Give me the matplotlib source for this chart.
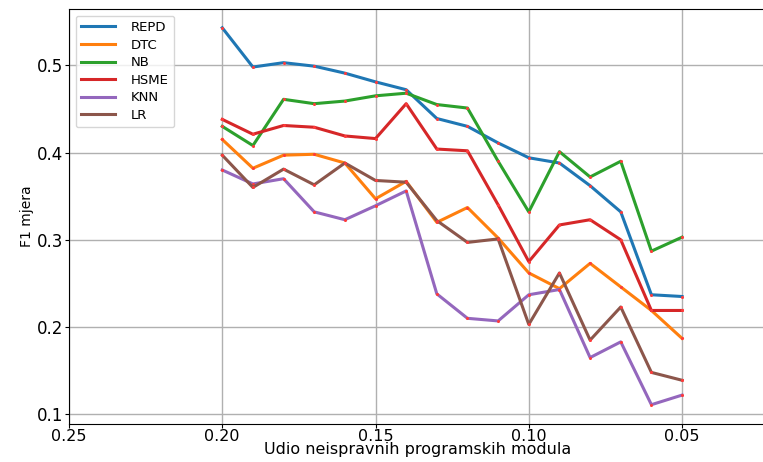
import numpy as np
import matplotlib
matplotlib.use('Agg')
import matplotlib.pyplot as plt

# udio neispravnih modula (x os ide unazad)
udio = [0.20, 0.19, 0.18, 0.17, 0.16, 0.15, 0.14, 0.13, 0.12, 0.11, 0.10, 0.09, 0.08, 0.07, 0.06, 0.05]

repd = [0.543, 0.498, 0.503, 0.499, 0.491, 0.481, 0.472, 0.439, 0.430, 0.411, 0.394, 0.388, 0.362, 0.332, 0.237, 0.235]
dtc = [0.415, 0.382, 0.397, 0.398, 0.388, 0.347, 0.367, 0.320, 0.337, 0.302, 0.262, 0.244, 0.273, 0.246, 0.219, 0.187]
nb = [0.430, 0.408, 0.461, 0.456, 0.459, 0.465, 0.468, 0.455, 0.451, 0.390, 0.332, 0.401, 0.372, 0.390, 0.287, 0.303]
hsme = [0.438, 0.421, 0.431, 0.429, 0.419, 0.416, 0.456, 0.404, 0.402, 0.340, 0.275, 0.317, 0.323, 0.300, 0.219, 0.219]
knn = [0.380, 0.364, 0.370, 0.332, 0.323, 0.339, 0.356, 0.238, 0.210, 0.207, 0.237, 0.243, 0.165, 0.183, 0.111, 0.122]
lr = [0.397, 0.360, 0.381, 0.363, 0.388, 0.368, 0.366, 0.322, 0.297, 0.301, 0.203, 0.262, 0.185, 0.223, 0.148, 0.139]

series = [('REPD', repd), ('DTC', dtc), ('NB', nb), ('HSME', hsme), ('KNN', knn), ('LR', lr)]
boje = ['#1f77b4', '#ff7f0e', '#2ca02c', '#d62728', '#9467bd', '#8c564b']

fig = plt.figure(figsize=(7.63, 4.62), dpi=100)
ax = fig.add_axes([0.0904, 0.0823, 0.9136, 0.8982])

for (naziv, vals), c in zip(series, boje):
    ax.plot(udio, vals, color=c, linewidth=2.2, label=naziv)
    ax.plot(udio, vals, linestyle='none', marker='o', markersize=2.2,
            color='#ff3b3b', markeredgewidth=0)

ax.set_xlim(0.25, 0.0226)
ax.set_ylim(0.0889, 0.5645)
ax.set_xticks([0.25, 0.20, 0.15, 0.10, 0.05])
ax.set_xticklabels(['0.25', '0.20', '0.15', '0.10', '0.05'])
ax.set_yticks([0.1, 0.2, 0.3, 0.4, 0.5])
ax.grid(True, color='#b0b0b0', linewidth=1.0)
ax.tick_params(axis='y', labelsize=12, length=3, pad=1)
ax.tick_params(axis='x', labelsize=11.5, length=3, pad=0.5)

ax.set_xlabel('Udio neispravnih programskih modula', fontsize=11.5, labelpad=-1)
ax.set_ylabel('F1 mjera', fontsize=10, labelpad=2)

ax.legend(loc='upper left', fontsize=9.5, handlelength=2.6, labelspacing=0.35,
          borderaxespad=0.5, handletextpad=1.2)

plt.savefig('out.png', dpi=100)
